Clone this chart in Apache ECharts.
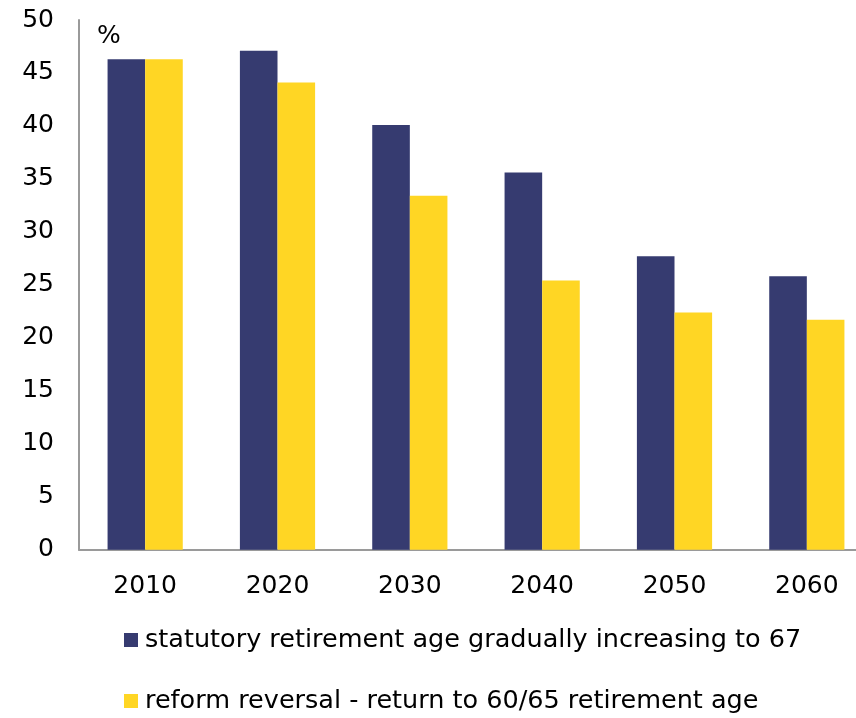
<!DOCTYPE html>
<html>
<head>
<meta charset="utf-8">
<script src="https://cdn.jsdelivr.net/npm/echarts@6/dist/echarts.min.js"></script>
<style>html,body{margin:0;padding:0;background:#fff;overflow:hidden;width:856px;height:718px}#c{width:873px;height:718px}</style>
</head>
<body>
<div id="c"></div>
<script>
var categories = ['2010', '2020', '2030', '2040', '2050', '2060'];
var seriesNames = ['statutory retirement age gradually increasing to 67', 'reform reversal - return to 60/65 retirement age'];
var statutory = [46.3, 47.1, 40.1, 35.6, 27.7, 25.8];
var reversal = [46.3, 44.1, 33.4, 25.4, 22.4, 21.7];
var yTicks = [0, 5, 10, 15, 20, 25, 30, 35, 40, 45, 50];

var FONT = 'DejaVu Sans';
var legendBase = {
  orient: 'vertical', left: 119,
  itemWidth: 14, itemHeight: 14,
  icon: 'rect',
  selectedMode: false,
  textStyle: {fontFamily: FONT, fontSize: 25.5, color: '#000', lineHeight: 25, padding: [0, 0, 0, 2]}
};
var chart = echarts.init(document.getElementById('c'), null, {renderer: 'canvas'});
chart.setOption({
  animation: false,
  backgroundColor: '#ffffff',
  textStyle: {fontFamily: FONT},
  grid: {left: 79, top: 20, right: 0, bottom: 168.3},
  graphic: [{
    type: 'text', left: 97, top: 24,
    style: {text: '%', font: '25px "DejaVu Sans"', fill: '#000'}
  }],
  legend: [
    Object.assign({}, legendBase, {top: 622, data: [seriesNames[0]]}),
    Object.assign({}, legendBase, {top: 683, data: [seriesNames[1]]})
  ],
  xAxis: {
    type: 'category', data: categories,
    axisLine: {show: true, lineStyle: {color: '#9a9a9a', width: 2}},
    axisTick: {show: false},
    axisLabel: {fontFamily: FONT, fontSize: 25, color: '#000', margin: 24, lineHeight: 25},
    splitLine: {show: false}
  },
  yAxis: {
    type: 'value', min: yTicks[0], max: yTicks[yTicks.length - 1], interval: 5,
    axisLine: {show: true, lineStyle: {color: '#9a9a9a', width: 2}},
    axisTick: {show: false},
    splitLine: {show: false},
    axisLabel: {fontFamily: FONT, fontSize: 25, color: '#000', margin: 25}
  },
  series: [{
    name: seriesNames[0], type: 'bar', data: statutory,
    barWidth: 37.6, barGap: '0%',
    itemStyle: {color: '#363B70'}
  }, {
    name: seriesNames[1], type: 'bar', data: reversal,
    barWidth: 37.6, barGap: '0%',
    itemStyle: {color: '#FFD624'}
  }]
});
</script>
</body>
</html>
